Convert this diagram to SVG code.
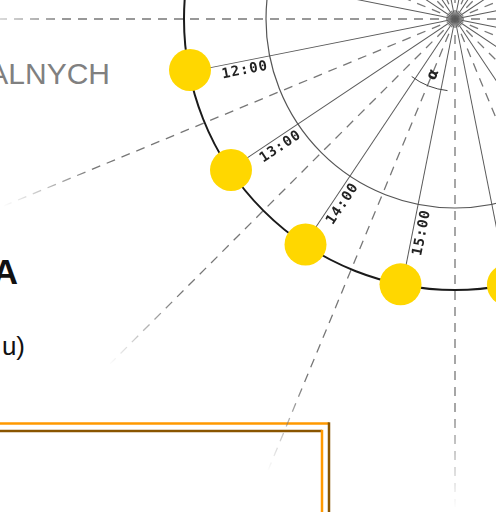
<svg xmlns="http://www.w3.org/2000/svg" xmlns:xlink="http://www.w3.org/1999/xlink" width="496" height="512" viewBox="0 0 496 512">
<style>
.solid{stroke:#5a5a5a;stroke-width:1;fill:none}
.dash{stroke:#777;stroke-width:1.3;stroke-dasharray:9 7;fill:none}
.sun{fill:#FFD700}
.hour{font-family:"DejaVu Sans Mono","Liberation Mono",monospace;font-weight:bold;font-size:14px;fill:#222;letter-spacing:0.9px}
</style>
<defs>
<radialGradient id="fadeG" gradientUnits="userSpaceOnUse" cx="455" cy="19" r="490">
<stop offset="0.8" stop-color="#fff"/>
<stop offset="1" stop-color="#000"/>
</radialGradient>
<mask id="fade" maskUnits="userSpaceOnUse" x="0" y="0" width="496" height="512">
<rect x="0" y="0" width="496" height="512" fill="url(#fadeG)"/>
</mask>
<line id="sr" x1="0" y1="0" x2="0" y2="271" class="solid"/>
<line id="dr" x1="0" y1="0" x2="0" y2="488" class="dash"/>
</defs>
<rect width="496" height="512" fill="#fff"/>

<g id="titles" font-family="'Liberation Sans',Arial,sans-serif">
<text x="110" y="83.5" text-anchor="end" font-size="30" fill="#808080">ALNYCH</text>
<text x="18" y="284" text-anchor="end" font-size="35" font-weight="bold" fill="#111">A</text>
<text x="25" y="355" text-anchor="end" font-size="26" fill="#111">u)</text>
</g>

<g id="box" stroke-width="2.5" fill="none">
<path d="M0 423.5 H329" stroke="#FF9900"/>
<path d="M329 422.3 V512" stroke="#8a5500"/>
<path d="M0 431 H322" stroke="#8a5500"/>
<path d="M322 429.8 V512" stroke="#FF9900"/>
</g>

<g id="connectors">
<g id="dashed-rays" mask="url(#fade)">
<g transform="translate(455,19)">
<use xlink:href="#dr" transform="rotate(0)"/>
<use xlink:href="#dr" transform="rotate(22.5)"/>
<use xlink:href="#dr" transform="rotate(45)"/>
<use xlink:href="#dr" transform="rotate(67.5)"/>
<use xlink:href="#dr" transform="rotate(90)"/>
<use xlink:href="#dr" transform="rotate(112.5)"/>
<use xlink:href="#dr" transform="rotate(135)"/>
<use xlink:href="#dr" transform="rotate(157.5)"/>
<use xlink:href="#dr" transform="rotate(180)"/>
<use xlink:href="#dr" transform="rotate(202.5)"/>
<use xlink:href="#dr" transform="rotate(225)"/>
<use xlink:href="#dr" transform="rotate(247.5)"/>
<use xlink:href="#dr" transform="rotate(270)"/>
<use xlink:href="#dr" transform="rotate(292.5)"/>
<use xlink:href="#dr" transform="rotate(315)"/>
<use xlink:href="#dr" transform="rotate(337.5)"/>
</g>
</g>
<g id="solid-rays" transform="translate(455,19)">
<use xlink:href="#sr" transform="rotate(11.25)"/>
<use xlink:href="#sr" transform="rotate(33.75)"/>
<use xlink:href="#sr" transform="rotate(56.25)"/>
<use xlink:href="#sr" transform="rotate(78.75)"/>
<use xlink:href="#sr" transform="rotate(101.25)"/>
<use xlink:href="#sr" transform="rotate(123.75)"/>
<use xlink:href="#sr" transform="rotate(146.25)"/>
<use xlink:href="#sr" transform="rotate(168.75)"/>
<use xlink:href="#sr" transform="rotate(191.25)"/>
<use xlink:href="#sr" transform="rotate(213.75)"/>
<use xlink:href="#sr" transform="rotate(236.25)"/>
<use xlink:href="#sr" transform="rotate(258.75)"/>
<use xlink:href="#sr" transform="rotate(281.25)"/>
<use xlink:href="#sr" transform="rotate(303.75)"/>
<use xlink:href="#sr" transform="rotate(326.25)"/>
<use xlink:href="#sr" transform="rotate(348.75)"/>
</g>
<circle id="inner-circle" cx="455" cy="19" r="189" fill="none" stroke="#555" stroke-width="1.2"/>
<circle id="sun-path" cx="455" cy="19" r="271" fill="none" stroke="#1a1a1a" stroke-width="2"/>
<path id="alpha-arc" d="M411.7 76.5 A72 72 0 0 0 447.5 90.6" fill="none" stroke="#444" stroke-width="1"/>
</g>

<g id="alpha-label">
<text transform="translate(455,19) rotate(-67.5)" x="-60" y="5" text-anchor="middle" font-family="'DejaVu Sans',sans-serif" font-weight="bold" font-size="15" fill="#222">α</text>
</g>

<g id="sun-1200">
<circle class="sun" cx="190" cy="70" r="21"/>
<text class="hour" transform="translate(455,19) rotate(-11.25)" x="-216" y="13" text-anchor="middle">12:00</text>
</g>
<g id="sun-1300">
<circle class="sun" cx="231" cy="170" r="21"/>
<text class="hour" transform="translate(455,19) rotate(-33.75)" x="-216" y="13" text-anchor="middle">13:00</text>
</g>
<g id="sun-1400">
<circle class="sun" cx="305.5" cy="244.5" r="21"/>
<text class="hour" transform="translate(455,19) rotate(-56.25)" x="-216" y="13" text-anchor="middle">14:00</text>
</g>
<g id="sun-1500">
<circle class="sun" cx="400.5" cy="284.3" r="21"/>
<text class="hour" transform="translate(455,19) rotate(-78.75)" x="-216" y="13" text-anchor="middle">15:00</text>
</g>
<g id="sun-1600">
<circle class="sun" cx="507.9" cy="284.8" r="21"/>
</g>
<g id="sun-1100">
<circle class="sun" cx="189.2" cy="-33.9" r="21"/>
</g>
</svg>
